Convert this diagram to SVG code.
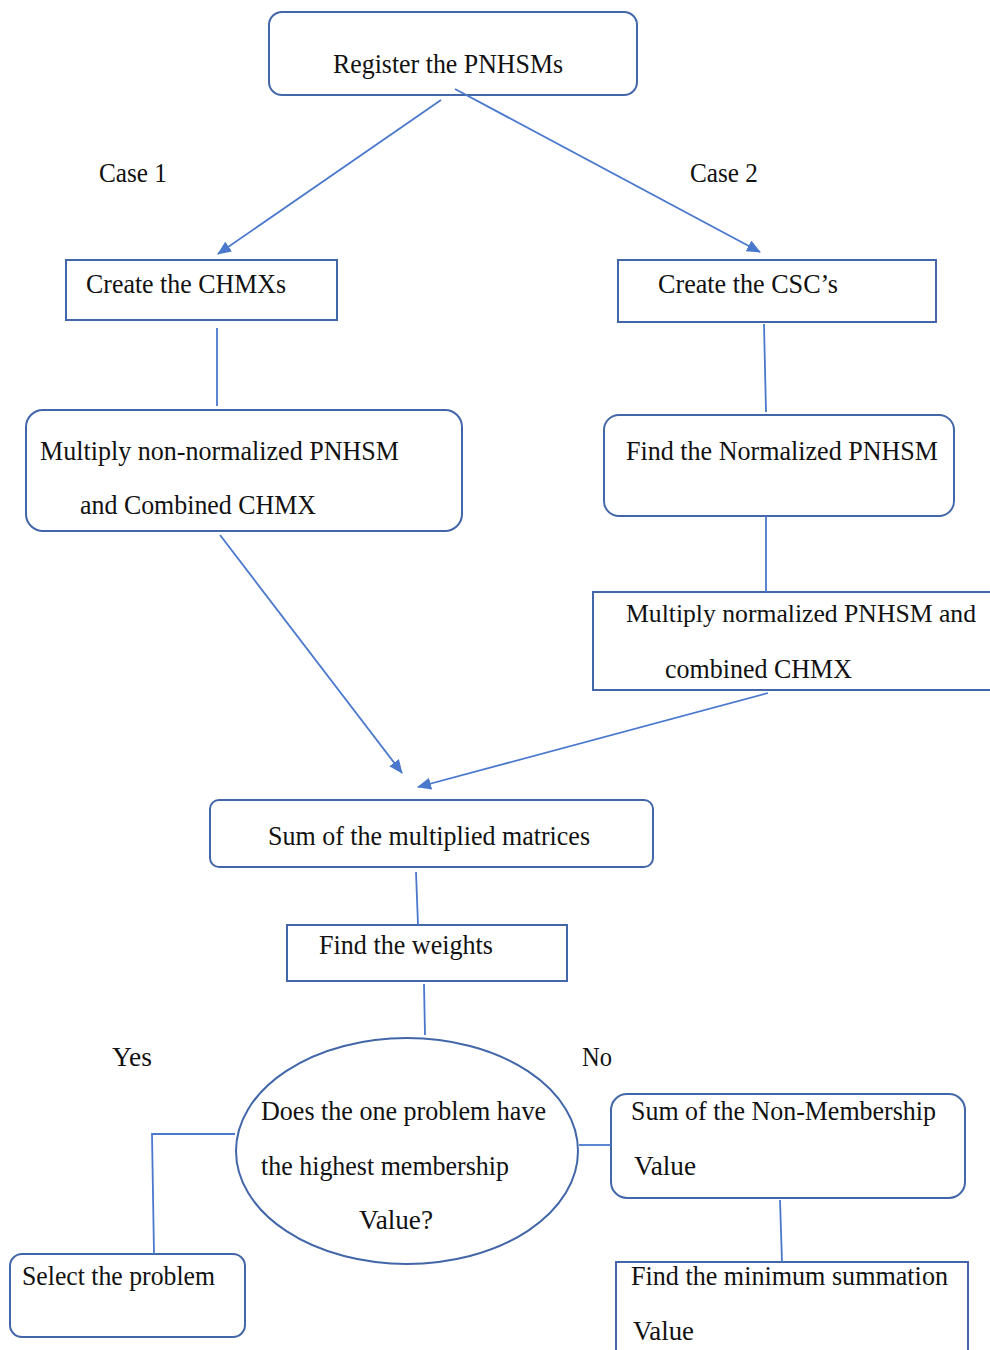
<svg xmlns="http://www.w3.org/2000/svg" width="990" height="1350" viewBox="0 0 990 1350">
<style>
.box{fill:#fff;stroke:#4266a8;stroke-width:2}
.con{fill:none;stroke:#4a78cc;stroke-width:1.8}
.t{font-family:"Liberation Serif",serif;font-size:28px;fill:#111}
</style>
<defs>
<marker id="ah" viewBox="0 0 14 12" refX="13" refY="6" markerWidth="14" markerHeight="12" markerUnits="userSpaceOnUse" orient="auto">
<path d="M0,0 L14,6 L0,12 Z" fill="#4a78cc"/>
</marker>
</defs>
<rect width="990" height="1350" fill="#fff"/>
<g id="register">
<rect class="box" x="269" y="12" width="368" height="83" rx="13"/>
<text class="t" x="333" y="73" textLength="230" lengthAdjust="spacingAndGlyphs">Register the PNHSMs</text>
</g>
<g id="case1"><text class="t" x="99" y="182" textLength="68" lengthAdjust="spacingAndGlyphs">Case 1</text></g>
<g id="case2"><text class="t" x="690" y="182" textLength="68" lengthAdjust="spacingAndGlyphs">Case 2</text></g>
<g id="chmx">
<rect class="box" x="66" y="260" width="271" height="60"/>
<text class="t" x="86" y="293" textLength="200" lengthAdjust="spacingAndGlyphs">Create the CHMXs</text>
</g>
<g id="csc">
<rect class="box" x="618" y="260" width="318" height="62"/>
<text class="t" x="658" y="293" textLength="180" lengthAdjust="spacingAndGlyphs">Create the CSC’s</text>
</g>
<g id="multiplyNon">
<rect class="box" x="26" y="410" width="436" height="121" rx="17"/>
<text class="t" x="40" y="460" textLength="359" lengthAdjust="spacingAndGlyphs">Multiply non-normalized PNHSM</text>
<text class="t" x="80" y="514" textLength="236" lengthAdjust="spacingAndGlyphs">and Combined CHMX</text>
</g>
<g id="normalized">
<rect class="box" x="604" y="415" width="350" height="101" rx="15"/>
<text class="t" x="626" y="460" textLength="312" lengthAdjust="spacingAndGlyphs">Find the Normalized PNHSM</text>
</g>
<g id="multiplyNorm">
<rect class="box" x="593" y="592" width="399" height="98"/>
<text class="t" x="626" y="622" style="font-size:25px" textLength="350" lengthAdjust="spacingAndGlyphs">Multiply normalized PNHSM and</text>
<text class="t" x="665" y="678" textLength="187" lengthAdjust="spacingAndGlyphs">combined CHMX</text>
</g>
<g id="sum">
<rect class="box" x="210" y="800" width="443" height="67" rx="9"/>
<text class="t" x="268" y="845" textLength="322" lengthAdjust="spacingAndGlyphs">Sum of the multiplied matrices</text>
</g>
<g id="weights">
<rect class="box" x="287" y="925" width="280" height="56"/>
<text class="t" x="319" y="954" textLength="174" lengthAdjust="spacingAndGlyphs">Find the weights</text>
</g>
<g id="decision">
<ellipse class="box" cx="407" cy="1151" rx="171" ry="113"/>
<text class="t" x="261" y="1120" textLength="285" lengthAdjust="spacingAndGlyphs">Does the one problem have</text>
<text class="t" x="261" y="1175" textLength="248" lengthAdjust="spacingAndGlyphs">the highest membership</text>
<text class="t" x="359" y="1229" textLength="74" lengthAdjust="spacingAndGlyphs">Value?</text>
</g>
<g id="yes"><text class="t" x="112" y="1066" textLength="40" lengthAdjust="spacingAndGlyphs">Yes</text></g>
<g id="no"><text class="t" x="582" y="1066" textLength="30" lengthAdjust="spacingAndGlyphs">No</text></g>
<g id="select">
<rect class="box" x="10" y="1254" width="235" height="83" rx="12"/>
<text class="t" x="22" y="1285" textLength="193" lengthAdjust="spacingAndGlyphs">Select the problem</text>
</g>
<g id="nonMembership">
<rect class="box" x="611" y="1094" width="354" height="104" rx="16"/>
<text class="t" x="631" y="1120" textLength="305" lengthAdjust="spacingAndGlyphs">Sum of the Non-Membership</text>
<text class="t" x="634" y="1175" textLength="62" lengthAdjust="spacingAndGlyphs">Value</text>
</g>
<g id="minimum">
<rect class="box" x="616" y="1262" width="352" height="110"/>
<text class="t" x="631" y="1285" textLength="317" lengthAdjust="spacingAndGlyphs">Find the minimum summation</text>
<text class="t" x="633" y="1340" textLength="61" lengthAdjust="spacingAndGlyphs">Value</text>
</g>
<g id="connectors">
<line class="con" x1="441" y1="100" x2="218" y2="254" marker-end="url(#ah)"/>
<line class="con" x1="455" y1="89" x2="760" y2="252" marker-end="url(#ah)"/>
<line class="con" x1="217" y1="328" x2="217" y2="406"/>
<line class="con" x1="764" y1="324" x2="766" y2="412"/>
<line class="con" x1="766" y1="516" x2="766" y2="592"/>
<line class="con" x1="220" y1="535" x2="402" y2="773" marker-end="url(#ah)"/>
<line class="con" x1="768" y1="693" x2="418" y2="787" marker-end="url(#ah)"/>
<line class="con" x1="416" y1="872" x2="418" y2="925"/>
<line class="con" x1="424" y1="984" x2="425" y2="1035"/>
<polyline class="con" points="235,1134 152,1134 154,1254"/>
<line class="con" x1="579" y1="1145" x2="611" y2="1145"/>
<line class="con" x1="780" y1="1200" x2="782" y2="1262"/>
</g>
</svg>
